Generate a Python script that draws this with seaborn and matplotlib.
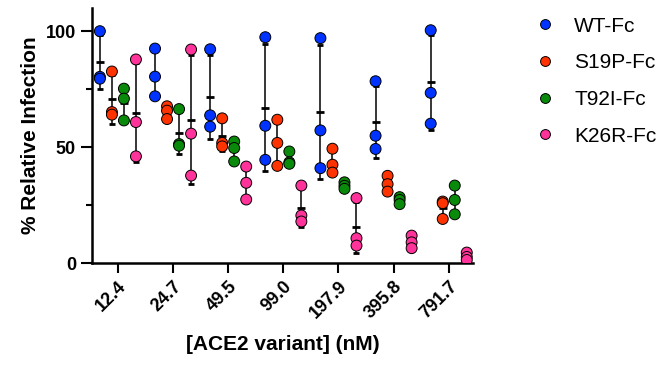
import pandas as pd
import matplotlib.pyplot as plt
import seaborn as sns

# concentrations (nM) and the four constructs
conc = ['12.4', '24.7', '49.5', '99.0', '197.9', '395.8', '791.7']
variants = ['WT-Fc', 'S19P-Fc', 'T92I-Fc', 'K26R-Fc']
colors = ['#0033ff', '#ff3300', '#0a8a0a', '#ff3399']

# triplicate % relative infection, one triplet per concentration
wt = [[100, 80.3, 79.5], [92.5, 80.4, 71.9], [92.2, 63.7, 58.8], [97.4, 59.2, 44.5],
      [97.0, 57.2, 40.9], [78.4, 54.9, 49.2], [100.4, 73.4, 60.1]]
s19p = [[82.6, 65.1, 64.0], [67.6, 65.7, 62.1], [62.4, 51.8, 50.3], [61.8, 51.8, 41.9],
        [49.3, 42.4, 39.0], [37.6, 34.0, 30.8], [26.5, 25.8, 19.0]]
t92i = [[75.2, 70.9, 61.5], [66.4, 51.3, 50.6], [52.4, 49.6, 43.8], [48.1, 43.4, 42.8],
        [34.8, 33.3, 32.0], [28.4, 27.2, 25.4], [33.4, 27.2, 21.0]]
k26r = [[87.8, 60.8, 46.0], [92.1, 55.8, 37.7], [41.6, 34.6, 27.4], [33.4, 20.5, 17.9],
        [28.0, 10.7, 7.5], [11.8, 8.9, 6.4], [4.5, 2.6, 1.3]]

offsets = [-0.327, -0.109, 0.109, 0.327]

rows = []
for v, vals, off in zip(variants, [wt, s19p, t92i, k26r], offsets):
    for i, trip in enumerate(vals):
        for y in trip:
            rows.append({'variant': v, 'conc': conc[i], 'pos': i + off, 'infection': y})
df = pd.DataFrame(rows)

sns.set_style('ticks')
plt.rcParams['font.family'] = ['Liberation Sans', 'DejaVu Sans']
plt.rcParams.update({'text.color': 'black', 'axes.labelcolor': 'black',
                     'xtick.color': 'black', 'ytick.color': 'black',
                     'axes.edgecolor': 'black'})

fig = plt.figure(figsize=(6.7, 3.65), dpi=100)
ax = fig.add_axes([92 / 670, 1 - 263 / 365, 381 / 670, 255 / 365])

# mean +/- SD bars behind the points
stats = df.groupby(['variant', 'pos'])['infection'].agg(['mean', 'std']).reset_index()
ax.errorbar(stats['pos'], stats['mean'], yerr=stats['std'], fmt='_', color='black',
            ms=6, mew=2, elinewidth=1.1, capsize=2.5, capthick=1.2, zorder=1)

sns.scatterplot(df, x='pos', y='infection', hue='variant', hue_order=variants,
                palette=colors, s=62, edgecolor='black', linewidth=0.7,
                zorder=3, ax=ax)

ax.set_xlim(-0.47, 6.44)
ax.set_ylim(0, 110)
ax.set_xticks(range(len(conc)))
ax.set_xticklabels(conc, rotation=45, ha='right', rotation_mode='anchor',
                   fontsize=13, fontweight='bold')
ax.set_yticks([0, 50, 100])
ax.set_yticks([25, 75], minor=True)
ax.set_yticklabels(['0', '50', '100'], fontsize=13, fontweight='bold')
ax.tick_params(axis='y', which='major', length=8, width=1.5)
ax.tick_params(axis='y', which='minor', length=4.3, width=1.5)
ax.tick_params(axis='x', length=7, width=1.5)
for s in ['left', 'bottom']:
    ax.spines[s].set_linewidth(1.8)
sns.despine(ax=ax)

ax.set_ylabel('% Relative Infection', fontsize=15, fontweight='bold')
ax.set_xlabel('[ACE2 variant] (nM)', fontsize=15, fontweight='bold', labelpad=10)

sns.move_legend(ax, 'upper left', bbox_to_anchor=(1.085, 1.04), frameon=False,
                title=None, fontsize=15, labelspacing=0.85, markerscale=0.9,
                handletextpad=0.4)

plt.savefig('out.png', dpi=100)
